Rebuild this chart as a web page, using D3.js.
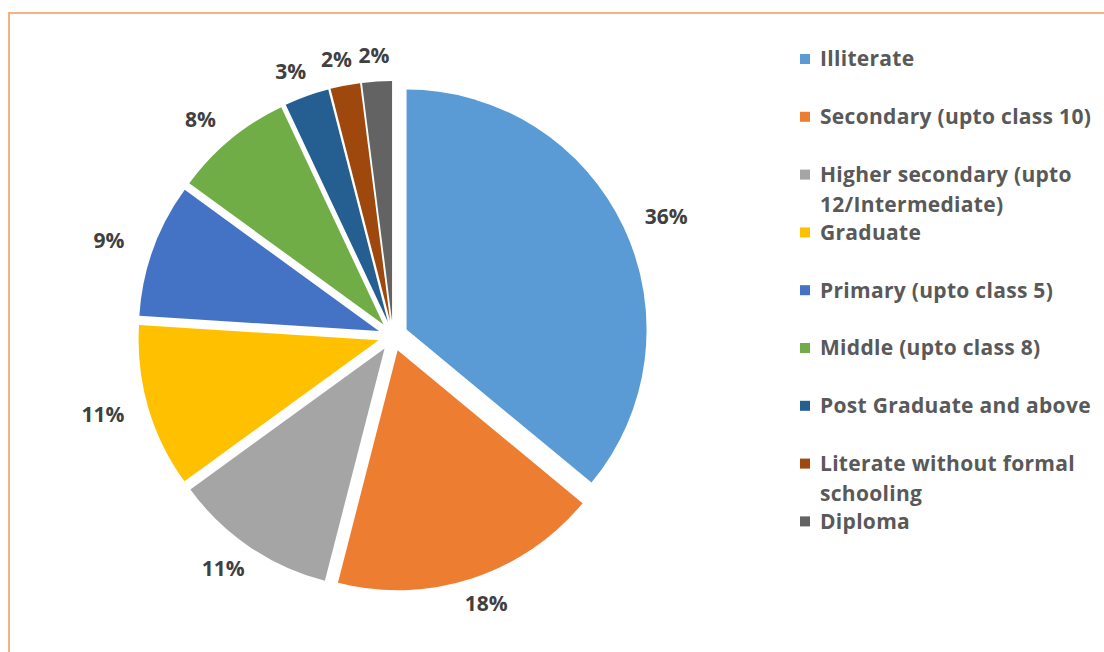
<!DOCTYPE html>
<html>
<head>
<meta charset="utf-8">
<script src="https://cdn.jsdelivr.net/npm/d3@7"></script>
<style>
  body { margin: 0; background: #fff; }
  svg { display: block; }
</style>
</head>
<body>
<svg></svg>
<script>
var categories = ["Illiterate", "Secondary (upto class 10)", "Higher secondary (upto 12/Intermediate)",
                  "Graduate", "Primary (upto class 5)", "Middle (upto class 8)",
                  "Post Graduate and above", "Literate without formal schooling", "Diploma"];
var shares = [36, 18, 11, 11, 9, 8, 3, 2, 2];
var palette = ["#5B9BD5", "#ED7D31", "#A5A5A5", "#FFC000", "#4472C4", "#70AD47", "#255E91", "#9E480E", "#636363"];

start();

function start(){
  var width = 1104, height = 652;
  var svg = d3.select("svg").attr("width", width).attr("height", height);

  // chart frame (only top and left edges visible)
  svg.append("rect")
     .attr("x", 9).attr("y", 13)
     .attr("width", width + 20).attr("height", height + 20)
     .attr("fill", "none")
     .attr("stroke", "#F4B183")
     .attr("stroke-width", 2);

  var cx = 393, cy = 336, r = 240, boom = 15;

  var pie = d3.pie().sort(null).value(function(d){ return d; });
  var arcs = pie(shares);
  var arcMaker = d3.arc().innerRadius(0).outerRadius(r);

  var color = d3.scaleOrdinal().domain(categories).range(palette);

  var g = svg.append("g").attr("transform", "translate(" + cx + "," + cy + ")");

  function dirOf(a){
    var m = (a.startAngle + a.endAngle) / 2;
    return [Math.sin(m), -Math.cos(m)];
  }

  g.selectAll("path")
   .data(arcs)
   .enter()
   .append("path")
   .attr("d", arcMaker)
   .attr("transform", function(a){
     var v = dirOf(a);
     return "translate(" + v[0]*boom + "," + v[1]*boom + ")";
   })
   .attr("fill", function(a, i){ return color(categories[i]); });

  // outside-end percentage labels
  var labR = r + boom + 16;
  g.selectAll("text.lab")
   .data(arcs)
   .enter()
   .append("text")
   .attr("class", "lab")
   .attr("x", function(a){ var v = dirOf(a); return v[0]*(labR + 31); })
   .attr("y", function(a){ var v = dirOf(a); return v[1]*(labR + 10); })
   .attr("text-anchor", "middle")
   .attr("dy", "0.35em")
   .style("font-family", "'Open Sans', sans-serif")
   .style("font-weight", "bold")
   .style("font-size", "21px")
   .attr("fill", "#404040")
   .text(function(a){ return d3.format(".0f")(a.data) + "%"; });

  // legend
  var legY = d3.scalePoint().domain(categories).range([59, 521.4]);
  var leg = svg.append("g").selectAll("g")
               .data(categories)
               .enter()
               .append("g")
               .attr("transform", function(d){ return "translate(800," + legY(d) + ")"; });

  leg.append("rect")
     .attr("x", 0).attr("y", -5)
     .attr("width", 10).attr("height", 10)
     .attr("fill", function(d){ return color(d); });

  leg.append("text")
     .attr("x", 20)
     .attr("y", 0)
     .attr("dy", "0.35em")
     .style("font-family", "'Open Sans', sans-serif")
     .style("font-weight", "bold")
     .style("font-size", "21px")
     .style("letter-spacing", "0.3px")
     .attr("fill", "#595959")
     .each(function(d){ wrap(d3.select(this), d, 284); });
}

function wrap(text, words, maxW){
  var list = words.split(" ");
  var line = [];
  var tspan = text.append("tspan").attr("x", 20);
  list.forEach(function(w){
    line.push(w);
    tspan.text(line.join(" "));
    if(tspan.node().getComputedTextLength() > maxW && line.length > 1){
      line.pop();
      tspan.text(line.join(" "));
      line = [w];
      tspan = text.append("tspan").attr("x", 20).attr("dy", "1.45em").text(w);
    }
  });
}
</script>
</body>
</html>
